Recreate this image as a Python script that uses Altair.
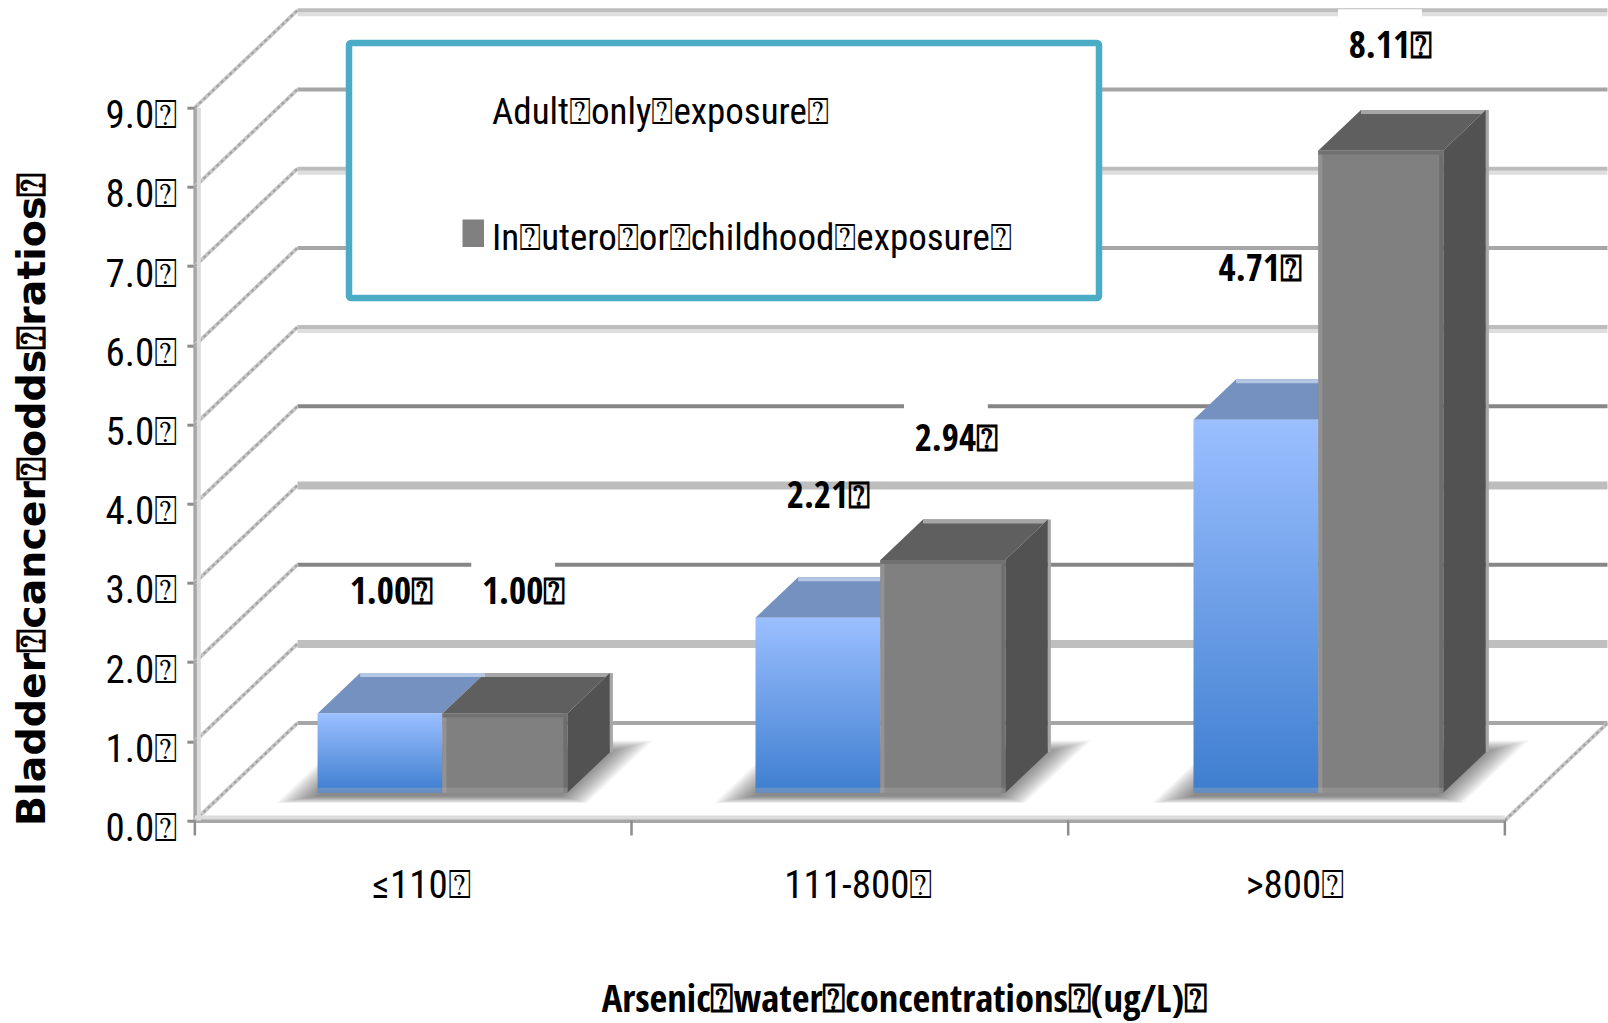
import altair as alt
import pandas as pd

# ---- values -------------------------------------------------------------
categories = ["≤110⍰", "111-800⍰", ">800⍰"]
adult_only = [1.00, 2.21, 4.71]
early_life = [1.00, 2.94, 8.11]
series_names = ["Adult⍰only⍰exposure⍰", "In⍰utero⍰or⍰childhood⍰exposure⍰"]
y_ticks = [0, 1, 2, 3, 4, 5, 6, 7, 8, 9]
x_boundaries = [0, 1, 2, 3]

# Label placement relative to the top of each bar (data units).
adult_lift = [1.525, 1.525, 1.885]
early_lift = [1.525, 1.515, 1.305]
adult_shift = [0.026, 0.024, 0.010]
early_shift = [0.043, 0.031, 0.022]

# ---- oblique projection: depth d in 0..1 shifts right and up ------------
DX, DY = 0.235, 1.23
D1, D2 = 0.285, 0.70       # bar footprint in depth
BAR = 0.286                # width of one bar in category units
PITCH = 1.003              # spacing of bar pairs in category units
PX_W, PX_H = 1310.0, 712.8  # plot area
PAD_L, PAD_T = 194.85, 107.7
UX, UY = 3 / PX_W, 9 / PX_H   # one pixel in data units

REGULAR = "Roboto Condensed"
BOLD = "Open Sans Condensed"
x_scale = alt.Scale(domain=[0, 3], nice=False)
y_scale = alt.Scale(domain=[0, 9], nice=False)
X = lambda f="x", **k: alt.X(f"{f}:Q", scale=x_scale, **k)
Y = lambda f="y", **k: alt.Y(f"{f}:Q", scale=y_scale, **k)
X2 = alt.X2("x2:Q")
Y2 = alt.Y2("y2:Q")
identity = alt.Color("c:N", scale=None)


def pair_centre(i):
    return 0.5 + i * PITCH


# ---- back wall and left wall --------------------------------------------
heavy = {0: ("#a6a6a6", 4), 2: ("#868686", 4), 4: ("#868686", 4), 6: ("#a6a6a6", 4), 8: ("#a6a6a6", 4),
         1: ("#bfbfbf", 8), 3: ("#bdbdbd", 8), 5: ("#bdbdbd", 4), 7: ("#bdbdbd", 4), 9: ("#bdbdbd", 4)}
wall_rows = []
for v in y_ticks:
    col, w = heavy[v]
    if w == 4 and v in (5, 7, 9):
        wall_rows.append(dict(x=DX, x2=3 + DX, y=v + DY - 4 * UY, c="#dedede", w=4))
    wall_rows.append(dict(x=DX, x2=3 + DX, y=v + DY, c=col, w=w))
walls = pd.DataFrame(wall_rows)
wall_layer = alt.Chart(walls).mark_rule(clip=False).encode(
    x=X(), x2=X2, y=Y(), color=identity, strokeWidth=alt.StrokeWidth("w:Q", scale=None))

# Labels carry a white box that interrupts the line behind them.
mask_rows = []
for i, s, wall, keep_top in [(0, early_shift[0], 2, 3), (1, early_shift[1], 4, 3), (2, early_shift[2], 9, 1)]:
    centre = pair_centre(i) + BAR / 2 + DX * D1 + s - 0.024
    mask_rows.append(dict(x=centre - 0.096, x2=centre + 0.096,
                          y=wall + DY + keep_top * UY, y2=wall + DY - 8 * UY))
mask_layer = alt.Chart(pd.DataFrame(mask_rows)).mark_rect(color="white").encode(x=X(), x2=X2, y=Y(), y2=Y2)

diag_rows = []
for v in y_ticks:
    diag_rows += [dict(k=f"w{v}", x=0, y=v), dict(k=f"w{v}", x=DX, y=v + DY)]
diag_rows += [dict(k="r", x=3, y=0), dict(k="r", x=3 + DX, y=DY)]
diags = pd.DataFrame(diag_rows)
diag_light = alt.Chart(diags).mark_line(color="#c8c8c8", strokeWidth=3.8, clip=False).encode(
    x=X(), y=Y(), detail="k:N")
diag_dark = alt.Chart(diags).mark_line(color="#a0a0a0", strokeWidth=2, strokeDash=[3, 3], clip=False).encode(
    x=X(), y=Y(), detail="k:N")

# ---- floor shadow under each pair of bars -------------------------------
shadow_rows = []
steps = 14
for i in range(3):
    for s in range(steps):
        t = s / (steps - 1)
        half = 0.355 - 0.075 * t
        d0, d1 = 0.18 + 0.07 * t, 0.82 - 0.12 * t
        for d in (d0, d1):
            shadow_rows.append(dict(k=f"{i}-{s}", y=d * DY, x=pair_centre(i) - half + d * DX,
                                    x2=pair_centre(i) + half + d * DX))
shadow_layer = alt.Chart(pd.DataFrame(shadow_rows)).mark_area(
    orient="horizontal", color="#202020", opacity=0.05, clip=False
).encode(y=Y(), x=alt.X("x:Q", scale=x_scale, stack=None), x2=X2, detail="k:N")

# ---- bars ---------------------------------------------------------------
def footprint(i, left_series):
    c0 = pair_centre(i) - BAR if left_series else pair_centre(i)
    return c0, c0 + BAR


top_rows, side_rows, front_adult, front_early, strip_rows = [], [], [], [], []
for series, values, top_col, edge_col in [(True, adult_only, "#7591c0", "#b4c6e2"),
                                          (False, early_life, "#5f5f5f", "#a6a6a6")]:
    for i, v in enumerate(values):
        c0, c1 = footprint(i, series)
        key = f"{series}-{i}"
        for d in (D1, D2):
            top_rows.append(dict(k=key, c=top_col, y=v + d * DY, x=c0 + d * DX, x2=c1 + d * DX))
        strip_rows.append(dict(x=c0 + D2 * DX, x2=c1 + D2 * DX, y=v + D2 * DY,
                               y2=v + D2 * DY - 4 * UY, c=edge_col))
        front = dict(x=c0 + D1 * DX, x2=c1 + D1 * DX, y=D1 * DY, y2=v + D1 * DY)
        (front_adult if series else front_early).append(front)
        if not series:
            for d in (D1, D2):
                side_rows.append(dict(k=key, x=c1 + d * DX, y=d * DY, y2=v + d * DY))

top_layer = alt.Chart(pd.DataFrame(top_rows)).mark_area(orient="horizontal", clip=False).encode(
    y=Y(), x=alt.X("x:Q", scale=x_scale, stack=None), x2=X2, detail="k:N", color=identity)
side_layer = alt.Chart(pd.DataFrame(side_rows)).mark_area(color="#525252", clip=False).encode(
    x=X(), y=alt.Y("y:Q", scale=y_scale, stack=None), y2=Y2, detail="k:N")
strip_layer = alt.Chart(pd.DataFrame(strip_rows)).mark_rect(clip=False).encode(
    x=X(), x2=X2, y=Y(), y2=Y2, color=identity)

blue_fill = alt.Gradient(gradient="linear", x1=0, x2=0, y1=0, y2=1,
                         stops=[alt.GradientStop(offset=0, color="#9bbfff"),
                                alt.GradientStop(offset=1, color="#3e7ecf")])
blue_layer = alt.Chart(pd.DataFrame(front_adult)).mark_rect(fill=blue_fill, clip=False).encode(
    x=X(), x2=X2, y=Y(), y2=Y2)
grey_layer = alt.Chart(pd.DataFrame(front_early)).mark_rect(color="#808080", clip=False).encode(
    x=X(), x2=X2, y=Y(), y2=Y2)

edge_rows = []
for f in front_early:
    edge_rows.append(dict(x=f["x"], x2=f["x"] + 4 * UX, y=f["y"], y2=f["y2"], c="#929292"))
    edge_rows.append(dict(x=f["x2"] - 4 * UX, x2=f["x2"], y=f["y"], y2=f["y2"], c="#6e6e6e"))
    edge_rows.append(dict(x=f["x"], x2=f["x2"], y=f["y2"], y2=f["y2"] - 4 * UY, c="#717171"))
for f in front_early:
    s = f["x2"] + (D2 - D1) * DX
    edge_rows.append(dict(x=s, x2=s + 3 * UX, y=D2 * DY, y2=f["y2"] + (D2 - D1) * DY, c="#a6a6a6"))
edge_layer = alt.Chart(pd.DataFrame(edge_rows)).mark_rect(clip=False).encode(
    x=X(), x2=X2, y=Y(), y2=Y2, color=identity)

base_rows = [dict(x=a["x"], x2=b["x2"], y=a["y"], y2=a["y"] + 5 * UY) for a, b in zip(front_adult, front_early)]
base_layer = alt.Chart(pd.DataFrame(base_rows)).mark_rect(color="#b0b0b0", opacity=0.35, clip=False).encode(
    x=X(), x2=X2, y=Y(), y2=Y2)

# ---- value labels -------------------------------------------------------
label_rows = []
for i in range(3):
    label_rows.append(dict(x=pair_centre(i) - BAR / 2 + D1 * DX + adult_shift[i],
                           y=adult_only[i] + D1 * DY + adult_lift[i], t=f"{adult_only[i]:.2f}⍰"))
    label_rows.append(dict(x=pair_centre(i) + BAR / 2 + D1 * DX + early_shift[i],
                           y=early_life[i] + D1 * DY + early_lift[i], t=f"{early_life[i]:.2f}⍰"))
label_layer = alt.Chart(pd.DataFrame(label_rows)).mark_text(
    font=BOLD, fontWeight="bold", fontSize=37, color="black", clip=False
).encode(x=X(), y=Y(), text="t:N")

# ---- axes ---------------------------------------------------------------
tick_rows = pd.DataFrame({"x": x_boundaries})
x_tick_layer = alt.Chart(tick_rows).mark_rule(color="#8c8c8c", strokeWidth=2.5, clip=False).encode(
    x=alt.X("x:Q", scale=x_scale), y=alt.value(PX_H), y2=alt.value(PX_H + 15))

floor_light = alt.Chart(pd.DataFrame({"y": [0]})).mark_rule(color="#dcdcdc", strokeWidth=4, clip=False).encode(
    y=alt.value(PX_H - 3), x=alt.value(0), x2=alt.value(PX_W))
wall_light = alt.Chart(pd.DataFrame({"y": [0]})).mark_rule(color="#dcdcdc", strokeWidth=4, clip=False).encode(
    x=alt.value(4), y=alt.value(0), y2=alt.value(PX_H))

axis_base = alt.Chart(pd.DataFrame({"x": [0.5, 1.5, 2.5], "y": [0, 0, 0]})).mark_point(opacity=0).encode(
    x=alt.X("x:Q", scale=x_scale, axis=alt.Axis(
        values=[0.5, 1.5, 2.5], grid=False, tickSize=0, domainColor="#a6a6a6", domainWidth=4,
        labelExpr="[" + ",".join(f"'{c}'" for c in categories) + "][floor(datum.value)]",
        labelFont=REGULAR, labelFontSize=39, labelColor="black", labelPadding=46, labelOffset=8, labelFlush=False,
        labelOverlap=False, title="Arsenic⍰water⍰concentrations⍰(ug/L)⍰",
        titleFont=BOLD, titleFontSize=38.5, titleFontWeight="bold", titleColor="black",
        titleX=709, titleY=179, titleAnchor="middle", titleAlign="center", titleBaseline="middle")),
    y=alt.Y("y:Q", scale=y_scale, axis=alt.Axis(
        values=y_ticks, grid=False, tickSize=8, tickWidth=3, tickColor="#8c8c8c", domainColor="#a6a6a6",
        domainWidth=4, labelExpr="format(datum.value,'.1f')+'⍰'", labelFont=REGULAR, labelFontSize=39,
        labelColor="black", labelPadding=10, labelOffset=8, labelOverlap=False, labelFlush=False,
        title="Bladder⍰cancer⍰odds⍰ratios⍰", titleFont="DejaVu Sans", titleFontSize=39.5, titleFontWeight="bold",
        titleColor="black", titleX=-162, titleY=391, titleAnchor="middle", titleAlign="center",
        titleBaseline="middle", titleAngle=270)),
)

# ---- legend box ---------------------------------------------------------
box = pd.DataFrame({"y": [0]})
legend_box = alt.Chart(box).mark_rect(fill="white", stroke="#4bacc6", strokeWidth=6.5, cornerRadius=2, clip=False).encode(
    x=alt.value(349 - PAD_L), x2=alt.value(1099 - PAD_L), y=alt.value(43 - PAD_T), y2=alt.value(298 - PAD_T))
legend_swatch = alt.Chart(box).mark_rect(color="#808080", clip=False).encode(
    x=alt.value(462.5 - PAD_L), x2=alt.value(484 - PAD_L), y=alt.value(219.5 - PAD_T), y2=alt.value(247 - PAD_T))
legend_text = alt.Chart(pd.DataFrame({"t": series_names, "yp": [113 - PAD_T, 239 - PAD_T]})).mark_text(
    font=REGULAR, fontSize=37, align="left", baseline="middle", color="black", clip=False
).encode(x=alt.value(492 - PAD_L), y=alt.Y("yp:Q", scale=None), text="t:N")

chart = alt.layer(
    wall_layer, mask_layer, diag_light, diag_dark, floor_light, wall_light, axis_base, x_tick_layer,
    shadow_layer, top_layer, strip_layer, side_layer, blue_layer, grey_layer, edge_layer, base_layer,
    label_layer, legend_box, legend_swatch, legend_text,
).properties(
    width=PX_W, height=PX_H,
    autosize=alt.AutoSizeParams(type="none"),
    padding={"left": PAD_L, "top": PAD_T, "right": 1608 - PAD_L - PX_W, "bottom": 1023 - PAD_T - PX_H},
    background="white",
).configure_view(stroke=None)

chart.save("out.html", embed_options={"renderer": "svg", "actions": False})
